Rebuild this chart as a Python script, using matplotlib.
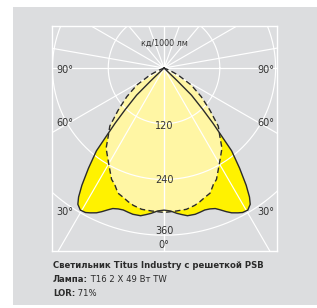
import matplotlib
matplotlib.use("Agg")
import matplotlib.pyplot as plt
import numpy as np
from matplotlib.patches import Rectangle

plt.rcParams["font.family"] = ["DejaVu Sans"]

# luminous intensity, cd/1000 lm, gamma measured from nadir (deg)
# solid curve: C0-C180 plane
gamma_solid = [0, 2.5, 5, 7, 9, 12, 14, 16, 18, 20, 21.5, 23.4, 25, 27, 28.5,
               30.5, 32.3, 33.5, 35, 37, 39.2, 40.3, 41.5, 43, 45.3, 46, 47]
i_solid = [306, 308, 314, 318, 322, 322, 320, 318, 319, 322, 328, 337, 344, 350, 354,
           355, 347, 333, 308, 270, 230, 190, 159, 123, 83, 40, 0]

# dashed curve: C90-C270 plane
gamma_dash = [0, 5, 9, 12.6, 15, 17.5, 20.2, 23, 25.2, 30, 35.8, 39.2, 43,
              47.4, 52.4, 58, 63.4, 67, 70]
i_dash = [311, 309, 308, 303, 298, 292, 287, 272, 265, 238, 213, 190, 171,
          134, 101, 69, 34, 14, 0]

rings = [120, 240, 360]
ring_labels = ["120", "240", "360"]
ray_angles = [0, 30, 60, 90, 100, 120, 140, 160, 180]
angle_labels = ["90°", "60°", "30°"]

W, H = 317, 308
fig = plt.figure(figsize=(W / 100, H / 100), dpi=100)
fig.patch.set_facecolor("white")
fig.patches.append(Rectangle((13 / W, 3 / H), 1 - 13 / W, (301 - 3) / H,
                             transform=fig.transFigure, facecolor="#dcdddf",
                             edgecolor="none", zorder=-5))

ax = fig.add_axes([52 / W, (H - 251) / H, 225 / W, 225 / H])
ax.set_zorder(2)
ax.set_facecolor("none")
ax.set_xlim(-241, 243)
ax.set_ylim(-394, 90.5)
ax.set_xticks([])
ax.set_yticks([])
for sp in ax.spines.values():
    sp.set_color("white")
    sp.set_linewidth(1.0)


def mirror(gam, val):
    g = np.radians(np.array(gam, dtype=float))
    v = np.array(val, dtype=float)
    g = np.concatenate([-g[::-1], g[1:]])
    v = np.concatenate([v[::-1], v[1:]])
    return v * np.sin(g), -v * np.cos(g)


xs, ys = mirror(gamma_solid, i_solid)
xd, yd = mirror(gamma_dash, i_dash)

ax.fill(xs, ys, color="#fff200", lw=0, zorder=2)
ax.fill(xd, yd, color="#fff6a4", lw=0, zorder=3)

# grid over the fills
t = np.linspace(0, 2 * np.pi, 400)
for r in rings:
    ax.plot(r * np.cos(t), r * np.sin(t), color="white", lw=0.85, zorder=4)
for a in ray_angles:
    g = np.radians(a)
    for sgn in (-1, 1):
        ax.plot([0, sgn * 700 * np.sin(g)], [0, -700 * np.cos(g)],
                color="white", lw=0.85, zorder=4)

ax.plot(xs, ys, color="#2b2b2b", lw=1.0, zorder=5)
ax.plot(xd, yd, color="#2b2b2b", lw=1.0, ls=(0, (4, 2.4)), zorder=5)

txt = dict(color="#333333", fontsize=7, ha="center", va="center", zorder=6)
for lab, y in zip(angle_labels, [-4, -118, -310]):
    ax.text(-214, y, lab, **txt)
    ax.text(220, y, lab, **txt)
for lab, y in zip(ring_labels, [-125, -241, -351]):
    ax.text(0, y, lab, **txt)
ax.text(0, -382, "0°", **txt)
ax.text(0, 54, "кд/1000 лм", color="#333333", fontsize=5.8, ha="center",
        va="center", zorder=6)

# caption
fig.canvas.draw()
rend = fig.canvas.get_renderer()
cap = dict(color="#2b2b2b", fontsize=6.1, va="center", transform=fig.transFigure)
x0 = 53 / W
fig.text(x0, 1 - 266 / H, "Светильник Titus Industry с решеткой PSB",
         fontweight="bold", **cap)
for y, bold, rest in [(280, "Лампа:", " T16 2 X 49 Вт TW"), (293, "LOR:", " 71%")]:
    b = fig.text(x0, 1 - y / H, bold, fontweight="bold", **cap)
    bb = b.get_window_extent(rend)
    fig.text(bb.x1 / fig.bbox.width, 1 - y / H, rest, **cap)

fig.savefig("out.png", dpi=100)
